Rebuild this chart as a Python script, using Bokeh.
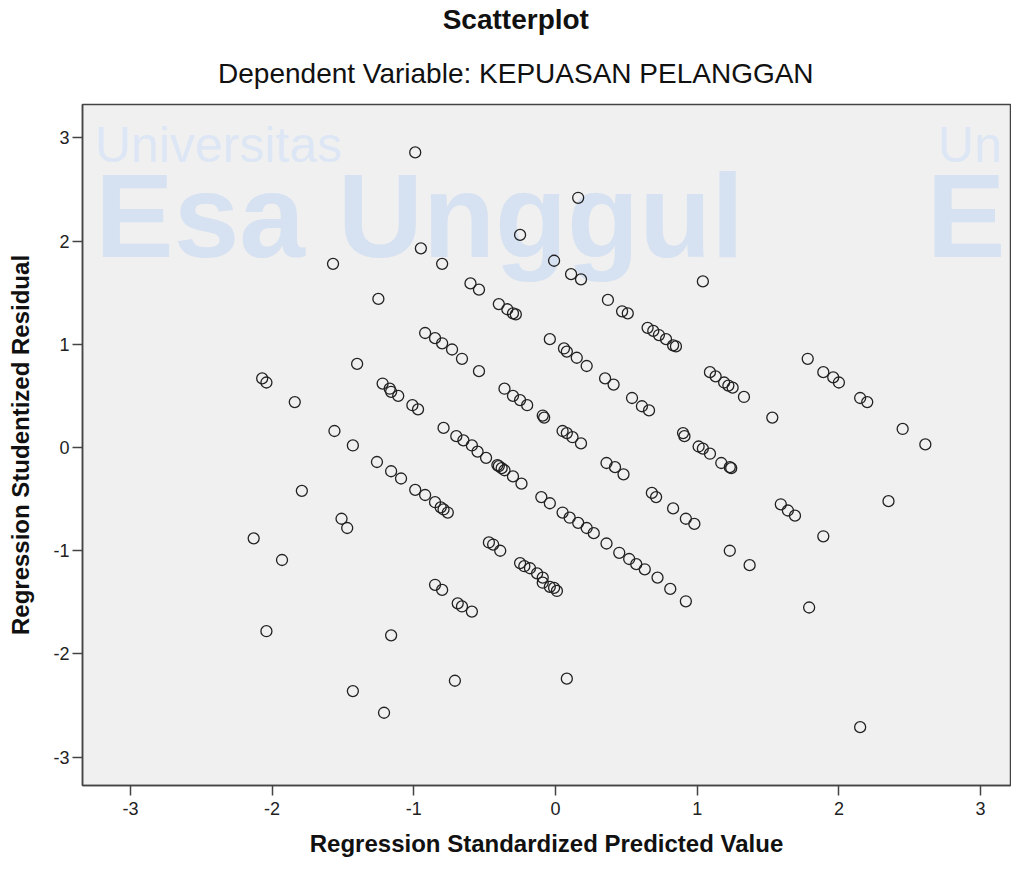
from bokeh.plotting import figure
from bokeh.models import (ColumnDataSource, FixedTicker, Label, Range1d, LinearAxis,
                          CustomJSTickFormatter)
from bokeh.embed import file_html
from bokeh.resources import INLINE

# Regression Standardized Predicted Value (x) and Studentized Residual (y)
pred = [
    -0.99, 0.16, -0.25, -0.95, -1.57, -0.80, -0.01, 0.11, 0.18, 1.04,
    -1.25, 0.37, 0.47, 0.51, -0.60, -0.54, -0.40, -0.34, -0.30, -0.28,
    0.65, 0.69, 0.73, 0.78, 0.83, 0.85, -0.92, -0.85, -0.80, -0.73,
    -0.66, -0.54, -0.04, 0.06, 0.08, 0.15, 0.22, 0.35, 0.41, 0.54,
    0.61, 0.66, -1.40, -1.22, -1.17, -1.16, -1.11, -1.01, -0.97, -0.36,
    -0.30, -0.25, -0.20, -0.09, -0.08, 0.05, 0.08, 0.12, 0.18, 1.09,
    1.13, 1.19, 1.22, 1.25, 1.33, 1.53, 1.78, 1.89, 1.96, 2.00,
    2.15, 2.20, 2.45, 2.61, -2.07, -2.04, -1.84, -1.56, -1.43, -0.79,
    -0.70, -0.65, -0.59, -0.55, -0.49, -0.41, -0.40, -0.38, -0.36, -0.30,
    -0.24, 0.36, 0.42, 0.48, 0.68, 0.71, 0.83, 0.90, 0.91, 1.01,
    1.04, 1.09, 1.17, 1.23, 1.24, 0.92, 0.98, 1.59, 1.64, 1.69,
    2.35, 1.89, 1.23, 1.37, -1.26, -1.16, -1.09, -0.99, -0.92, -0.85,
    -0.81, -0.79, -0.76, -1.51, -1.47, -1.79, -2.13, -1.93, -0.10, -0.04,
    0.05, 0.10, 0.16, 0.22, 0.27, 0.36, 0.45, 0.52, 0.57, 0.63,
    0.72, 0.81, 0.92, -0.47, -0.44, -0.39, -0.25, -0.22, -0.18, -0.13,
    -0.09, -0.09, -0.04, -0.01, 0.01, -0.85, -0.80, -0.69, -0.66, -0.59,
    -1.16, -1.43, -1.21, -0.71, 0.08, 2.15, -2.04, 1.79,
]
resid = [
    2.86, 2.42, 2.06, 1.93, 1.78, 1.78, 1.81, 1.68, 1.63, 1.61,
    1.44, 1.43, 1.32, 1.30, 1.59, 1.53, 1.39, 1.34, 1.30, 1.29,
    1.16, 1.13, 1.09, 1.05, 0.99, 0.98, 1.11, 1.06, 1.01, 0.95,
    0.86, 0.74, 1.05, 0.96, 0.93, 0.87, 0.79, 0.67, 0.61, 0.48,
    0.40, 0.36, 0.81, 0.62, 0.57, 0.54, 0.50, 0.41, 0.37, 0.57,
    0.50, 0.46, 0.41, 0.31, 0.29, 0.16, 0.14, 0.10, 0.04, 0.73,
    0.69, 0.63, 0.60, 0.58, 0.49, 0.29, 0.86, 0.73, 0.68, 0.63,
    0.48, 0.44, 0.18, 0.03, 0.67, 0.63, 0.44, 0.16, 0.02, 0.19,
    0.11, 0.07, 0.02, -0.04, -0.10, -0.17, -0.18, -0.20, -0.22, -0.28,
    -0.35, -0.15, -0.19, -0.26, -0.44, -0.48, -0.59, 0.14, 0.11, 0.01,
    -0.01, -0.06, -0.15, -0.19, -0.20, -0.69, -0.74, -0.55, -0.61, -0.66,
    -0.52, -0.86, -1.00, -1.14, -0.14, -0.23, -0.30, -0.41, -0.46, -0.53,
    -0.58, -0.60, -0.63, -0.69, -0.78, -0.42, -0.88, -1.09, -0.48, -0.54,
    -0.63, -0.68, -0.73, -0.78, -0.83, -0.93, -1.02, -1.08, -1.13, -1.18,
    -1.26, -1.37, -1.49, -0.92, -0.94, -1.00, -1.12, -1.15, -1.17, -1.22,
    -1.26, -1.31, -1.35, -1.36, -1.39, -1.33, -1.38, -1.51, -1.54, -1.59,
    -1.82, -2.36, -2.57, -2.26, -2.24, -2.71, -1.78, -1.55,
]
ticks = [-3, -2, -1, 0, 1, 2, 3]
title_main = "Scatterplot"
title_sub = "Dependent Variable: KEPUASAN PELANGGAN"
x_label = "Regression Standardized Predicted Value"
y_label = "Regression Studentized Residual"

FONT = "Liberation Sans"

p = figure(
    width=1011, height=862,
    x_range=Range1d(-3.338, 3.211), y_range=Range1d(-3.275, 3.324),
    output_backend="svg", toolbar_location=None,
    min_border_left=82, min_border_right=1, min_border_top=102, min_border_bottom=77,
)
p.background_fill_color = "#f0f0f0"
p.border_fill_color = "white"
p.outline_line_color = "#444444"
p.outline_line_width = 1.5
p.xgrid.visible = False
p.ygrid.visible = False

# watermark
wm_light = "#dde6f4"
wm_bold = "#d6e1f1"
for txt, xx, yy, size, style, col in [
    ("Universitas", -3.25, 2.66, "50px", "normal", wm_light),
    ("Esa Unggul", -3.25, 1.60, "118px", "bold", wm_bold),
    ("Un", 2.70, 2.66, "50px", "normal", wm_light),
    ("E", 2.62, 1.60, "118px", "bold", wm_bold),
]:
    p.add_layout(Label(x=xx, y=yy, text=txt, text_font=FONT, text_font_size=size,
                       text_font_style=style, text_color=col, level="underlay"))

src = ColumnDataSource(dict(x=pred, y=resid))
p.scatter("x", "y", source=src, marker="circle", size=11, fill_color=None,
          line_color="#222222", line_width=1.3)

overrides = {t: str(t) for t in ticks}
for ax in (p.xaxis[0], p.yaxis[0]):
    ax.ticker = FixedTicker(ticks=ticks)
    ax.major_label_overrides = overrides
    ax.minor_tick_line_color = None
    ax.major_tick_in = 0
    ax.major_tick_out = 10
    ax.major_tick_line_color = "#444444"
    ax.major_tick_line_width = 1.5
    ax.axis_line_color = "#444444"
    ax.axis_line_width = 1.5
    ax.major_label_text_font = FONT
    ax.major_label_text_font_size = "18px"
    ax.major_label_text_color = "#222222"
    ax.axis_label_text_font = FONT
    ax.axis_label_text_font_size = "24px"
    ax.axis_label_text_font_style = "bold"
    ax.axis_label_text_color = "#111111"

p.xaxis.major_label_standoff = 6
p.yaxis.major_label_standoff = 3
p.xaxis.axis_label = x_label
p.yaxis.axis_label = y_label
p.xaxis.axis_label_standoff = 12
p.yaxis.axis_label_standoff = 16


def title_axis(text, standoff, style):
    return LinearAxis(
        ticker=FixedTicker(ticks=[-0.28]),
        formatter=CustomJSTickFormatter(args=dict(t=text), code="return t"),
        axis_line_color=None, major_tick_line_color=None, minor_tick_line_color=None,
        major_tick_in=0, major_tick_out=0, major_label_standoff=standoff,
        major_label_text_font=FONT, major_label_text_font_size="28px",
        major_label_text_font_style=style, major_label_text_color="#111111",
    )


# subtitle (closest to the frame), then the main title above it
p.add_layout(title_axis(title_sub, 16, "normal"), "above")
p.add_layout(title_axis(title_main, 20, "bold"), "above")

open("out.html", "w").write(file_html(p, INLINE))
